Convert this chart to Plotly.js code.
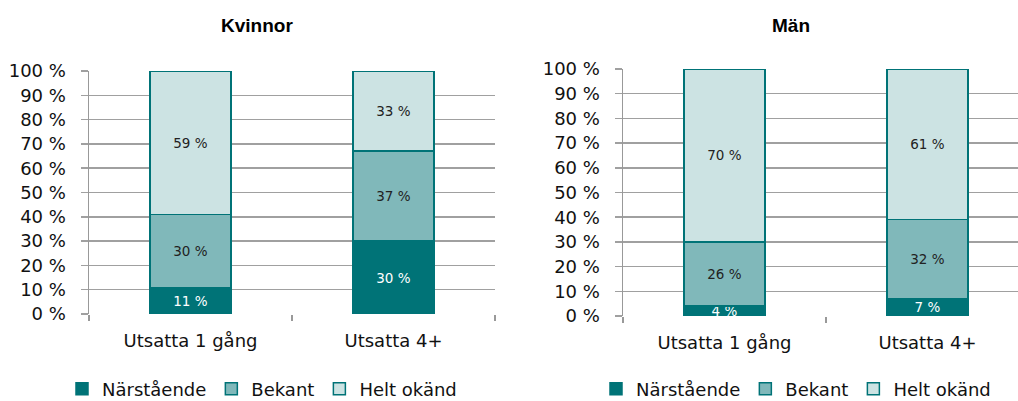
<!DOCTYPE html>
<html>
<head>
<meta charset="utf-8">
<script src="https://cdn.plot.ly/plotly-3.0.1.min.js"></script>
<style>
html,body{margin:0;padding:0;background:#fff;}
#chart{width:1018px;height:401px;}
</style>
</head>
<body>
<div id="chart"></div>
<script>
// Data
const categories = ["Utsatta 1 gång", "Utsatta 4+"];
const seriesNames = ["Närstående", "Bekant", "Helt okänd"];
const kvinnorNarstaende = [11, 30];
const kvinnorBekant = [30, 37];
const kvinnorOkand = [59, 33];
const manNarstaende = [4, 7];
const manBekant = [26, 32];
const manOkand = [70, 61];
const yTicks = [0, 10, 20, 30, 40, 50, 60, 70, 80, 90, 100];
const panelTitles = ["Kvinnor", "Män"];

const colors = ["#007377", "#80B8BA", "#CCE3E3"];
const textColors = ["#ffffff", "#222222", "#222222"];
const FONT = "DejaVu Sans, Verdana, sans-serif";
const TFONT = "Liberation Sans, Arial, sans-serif";

function mk(name, vals, i, xa, ya, leg) {
  return {
    type: "bar",
    name: name,
    x: categories,
    y: vals,
    xaxis: xa,
    yaxis: ya,
    legend: leg,
    width: 0.4,
    text: vals.map(v => v + " %"),
    texttemplate: "%{text}",
    textposition: "inside",
    insidetextanchor: "middle",
    constraintext: "none",
    textangle: 0,
    textfont: {family: FONT, size: 13.5, color: textColors[i]},
    marker: {color: colors[i], line: {color: "#007377", width: 1.5}},
    hoverinfo: "skip"
  };
}

const data = [
  mk(seriesNames[0], kvinnorNarstaende, 0, "x", "y", "legend"),
  mk(seriesNames[1], kvinnorBekant, 1, "x", "y", "legend"),
  mk(seriesNames[2], kvinnorOkand, 2, "x", "y", "legend"),
  mk(seriesNames[0], manNarstaende, 0, "x2", "y2", "legend2"),
  mk(seriesNames[1], manBekant, 1, "x2", "y2", "legend2"),
  mk(seriesNames[2], manOkand, 2, "x2", "y2", "legend2")
];

const W = 1018, H = 401;
function xaxis(d0, d1, range) {
  return {
    domain: [d0 / W, d1 / W],
    range: range,
    autorange: false,
    type: "category",
    showline: false,
    showgrid: false,
    zeroline: false,
    ticks: "outside",
    tickson: "boundaries",
    ticklen: 6,
    tickwidth: 1.5,
    tickcolor: "#999999",
    ticklabelstandoff: 14,
    tickfont: {family: FONT, size: 18, color: "#111111"},
    fixedrange: true
  };
}
function yaxis(top, bottom, anchor) {
  return {
    domain: [1 - bottom / H, 1 - top / H],
    anchor: anchor,
    range: [0, 100],
    autorange: false,
    tickvals: yTicks,
    ticktext: yTicks.map(v => v + " %"),
    showline: true,
    linecolor: "#999999",
    linewidth: 1.5,
    showgrid: true,
    gridcolor: "#a0a0a0",
    gridwidth: 1.5,
    zeroline: false,
    ticks: "outside",
    ticklen: 7,
    tickwidth: 1.5,
    tickcolor: "#a0a0a0",
    ticklabelstandoff: 11,
    tickfont: {family: FONT, size: 18, color: "#111111"},
    fixedrange: true
  };
}

const layout = {
  width: W,
  height: H,
  margin: {l: 0, r: 0, t: 0, b: 0, autoexpand: false},
  paper_bgcolor: "#ffffff",
  plot_bgcolor: "#ffffff",
  barmode: "stack",
  showlegend: true,
  font: {family: FONT, color: "#111111"},
  xaxis: xaxis(89, 495, [-0.5, 1.5]),
  yaxis: yaxis(71, 314, "x"),
  xaxis2: Object.assign(xaxis(623, 1018, [-0.5, 1.446]), {anchor: "y2"}),
  yaxis2: yaxis(69, 316, "x2"),
  legend: {
    orientation: "h",
    x: 62 / W, xanchor: "left",
    y: 1 - 389 / H, yanchor: "middle",
    font: {family: FONT, size: 18, color: "#111111"},
    traceorder: "normal",
    itemclick: false, itemdoubleclick: false
  },
  legend2: {
    orientation: "h",
    x: 596 / W, xanchor: "left",
    y: 1 - 389 / H, yanchor: "middle",
    font: {family: FONT, size: 18, color: "#111111"},
    traceorder: "normal",
    itemclick: false, itemdoubleclick: false
  },
  annotations: [
    {text: "<b>" + panelTitles[0] + "</b>", xref: "paper", yref: "paper", x: 257 / W, y: 1 - 26 / H,
     showarrow: false, xanchor: "center", yanchor: "middle", font: {family: TFONT, size: 19, color: "#000"}},
    {text: "<b>" + panelTitles[1] + "</b>", xref: "paper", yref: "paper", x: 791 / W, y: 1 - 25 / H,
     showarrow: false, xanchor: "center", yanchor: "middle", font: {family: TFONT, size: 19, color: "#000"}}
  ]
};

Plotly.newPlot("chart", data, layout, {displayModeBar: false, staticPlot: true});
</script>
</body>
</html>
